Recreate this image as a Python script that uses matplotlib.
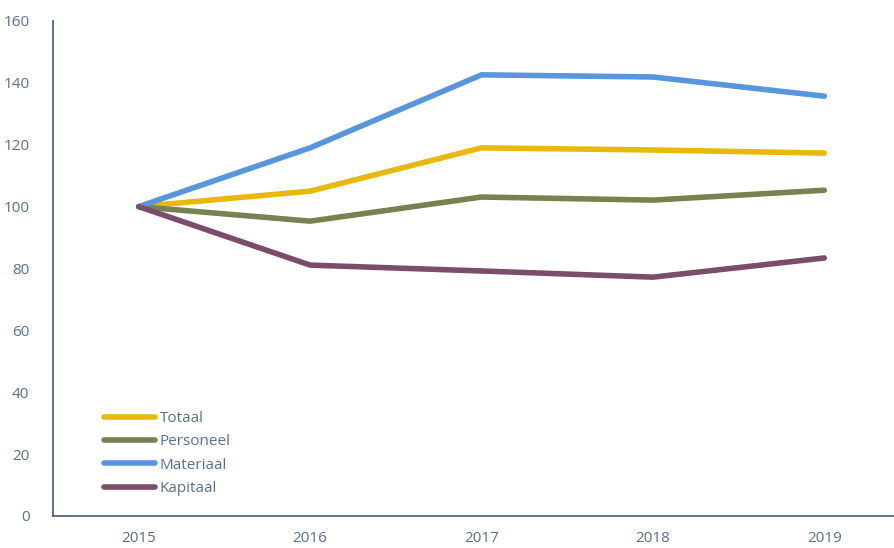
import matplotlib.pyplot as plt

# ---------- DATA ----------
jaren = ['2015', '2016', '2017', '2018', '2019']
totaal = [100, 105.0, 119.0, 118.3, 117.3]
personeel = [100, 95.3, 103.1, 102.1, 105.3]
materiaal = [100, 119.0, 142.6, 141.9, 135.7]
kapitaal = [100, 81.1, 79.2, 77.2, 83.4]

tekstkleur = '#5B6F8E'
aslijn = '#44597A'

plt.rcParams['font.family'] = ['Open Sans', 'DejaVu Sans']

fig = plt.figure(figsize=(8.94, 5.48), dpi=100)
ax = fig.add_axes([0.0593, 0.0584, 0.9586, 0.9033])

x = range(len(jaren))
ax.plot(x, totaal, color='#E8B90C', lw=4, label='Totaal', solid_capstyle='round')
ax.plot(x, personeel, color='#76824F', lw=4, label='Personeel', solid_capstyle='round')
ax.plot(x, materiaal, color='#5796DD', lw=4, label='Materiaal', solid_capstyle='round')
ax.plot(x, kapitaal, color='#7B4D6B', lw=4, label='Kapitaal', solid_capstyle='round')

ax.set_xlim(-0.5, 4.5)
ax.set_ylim(0, 160)
ax.set_xticks(list(x))
ax.set_xticklabels(jaren)
ax.set_yticks(range(0, 161, 20))

for s in ['top', 'right']:
    ax.spines[s].set_visible(False)
for s in ['left', 'bottom']:
    ax.spines[s].set_color(aslijn)
    ax.spines[s].set_linewidth(1.2)

ax.tick_params(axis='both', length=0, labelsize=11, colors=tekstkleur)
ax.tick_params(axis='y', pad=17)
ax.tick_params(axis='x', pad=11)

leg = ax.legend(loc='lower left', bbox_to_anchor=(0.06, 0.04), frameon=False,
                fontsize=11, handlelength=3.3, handletextpad=0.3,
                labelspacing=0.55, borderpad=0, borderaxespad=0)
for t in leg.get_texts():
    t.set_color(tekstkleur)

plt.savefig('out.png', dpi=100)
